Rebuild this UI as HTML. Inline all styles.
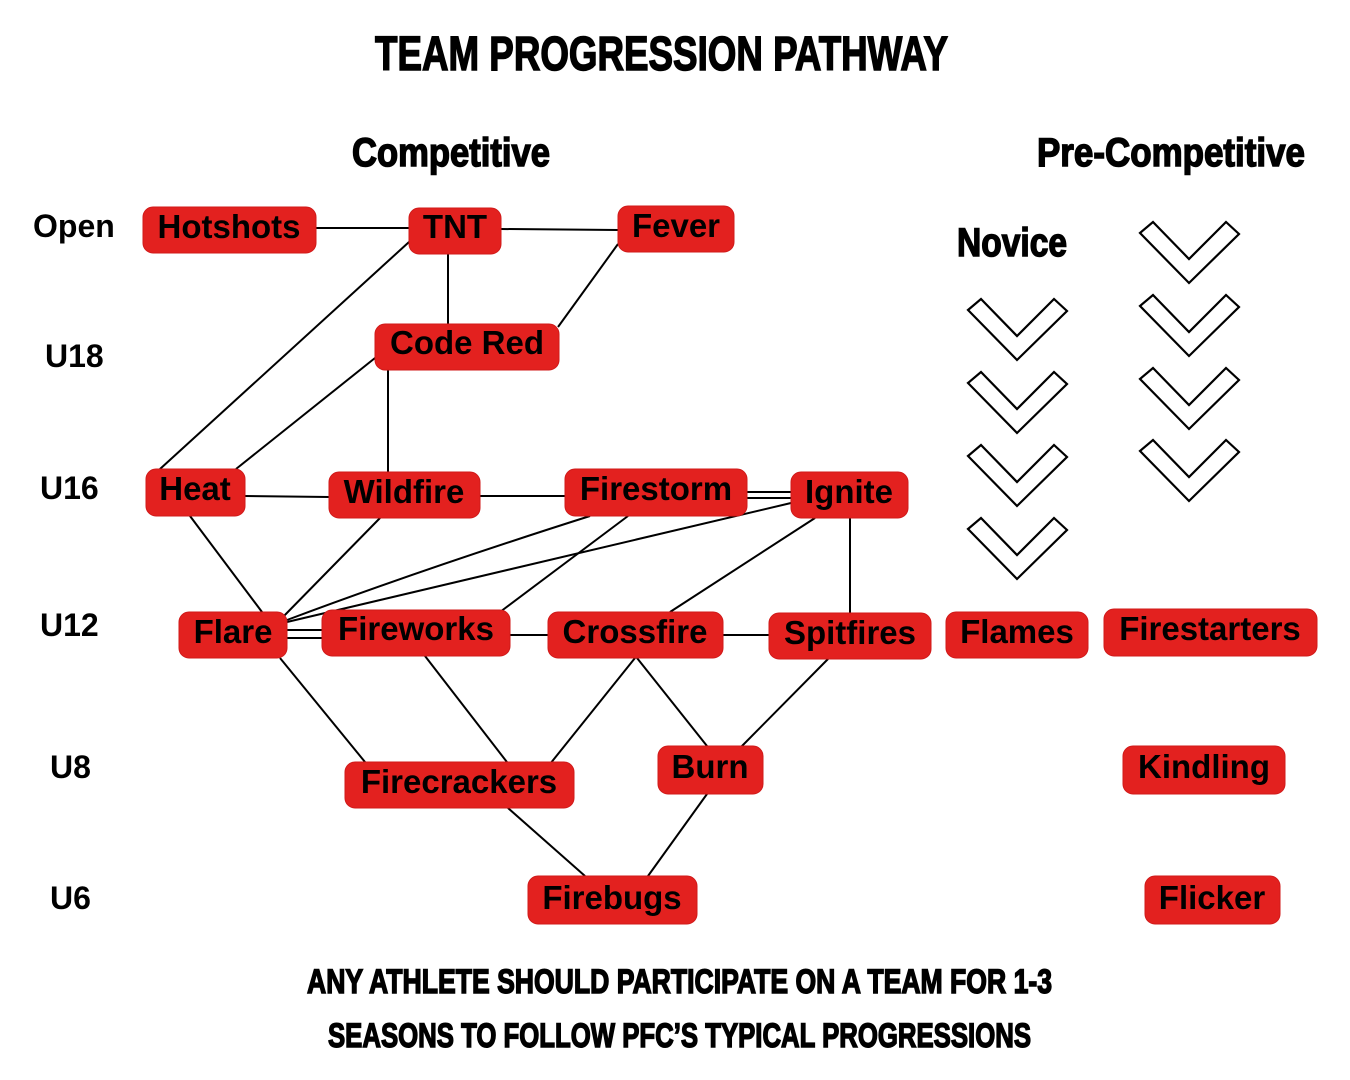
<!DOCTYPE html>
<html><head><meta charset="utf-8"><style>
html,body{margin:0;padding:0;background:#fff;}
svg{display:block;}
.n{fill:#e3211f;stroke:#d01a1a;stroke-width:1}
.t{font-family:"Liberation Sans",sans-serif;font-weight:bold;font-size:33px;fill:#000;text-anchor:middle}
.l{font-family:"Liberation Sans",sans-serif;font-weight:bold;font-size:32px;fill:#000}
.h{font-family:"Liberation Sans Narrow","Liberation Sans",sans-serif;font-weight:bold;fill:#000;stroke:#000;stroke-width:1.5}
line,path.c{stroke:#000;stroke-width:2;fill:none}
.ch{fill:#fff;stroke:#000;stroke-width:2.2;stroke-linejoin:miter}
</style></head><body>
<svg width="1350" height="1080" viewBox="0 0 1350 1080" xmlns="http://www.w3.org/2000/svg">
<text class="h" x="375" y="70" font-size="48" textLength="573" lengthAdjust="spacingAndGlyphs">TEAM PROGRESSION PATHWAY</text>
<text class="h" x="352" y="166" font-size="40" textLength="198" lengthAdjust="spacingAndGlyphs">Competitive</text>
<text class="h" x="1037" y="166" font-size="40" textLength="268" lengthAdjust="spacingAndGlyphs">Pre-Competitive</text>
<text class="h" x="957" y="256" font-size="40" textLength="110" lengthAdjust="spacingAndGlyphs">Novice</text>
<text class="h" x="307" y="993" font-size="34" textLength="745" lengthAdjust="spacingAndGlyphs">ANY ATHLETE SHOULD PARTICIPATE ON A TEAM FOR 1-3</text>
<text class="h" x="328" y="1047" font-size="34" textLength="703" lengthAdjust="spacingAndGlyphs">SEASONS TO FOLLOW PFC’S TYPICAL PROGRESSIONS</text>

<text class="l" x="33" y="237">Open</text>
<text class="l" x="45" y="367">U18</text>
<text class="l" x="40" y="499">U16</text>
<text class="l" x="40" y="636">U12</text>
<text class="l" x="50" y="778">U8</text>
<text class="l" x="50" y="909">U6</text>

<line x1="316" y1="228" x2="409" y2="228"/>
<line x1="501" y1="229" x2="618" y2="230"/>
<line x1="448" y1="254" x2="448" y2="324"/>
<line x1="409" y1="242" x2="160" y2="469"/>
<line x1="618" y1="244" x2="558" y2="327"/>
<line x1="375" y1="358" x2="236" y2="469"/>
<line x1="388" y1="370" x2="388" y2="472"/>
<line x1="245" y1="496" x2="329" y2="497"/>
<line x1="480" y1="496" x2="565" y2="496"/>
<line x1="747" y1="492" x2="791" y2="492"/>
<line x1="747" y1="498" x2="791" y2="498"/>
<line x1="190" y1="516" x2="262" y2="612"/>
<line x1="380" y1="518" x2="280" y2="620"/>
<path class="c" d="M590,516 Q420,570 287,620"/>
<line x1="791" y1="503" x2="287" y2="622"/>
<line x1="628" y1="516" x2="500" y2="612"/>
<line x1="815" y1="518" x2="670" y2="612"/>
<line x1="850" y1="518" x2="850" y2="613"/>
<line x1="287" y1="630" x2="322" y2="630"/>
<line x1="287" y1="638" x2="322" y2="638"/>
<line x1="510" y1="635" x2="548" y2="635"/>
<line x1="723" y1="635" x2="769" y2="635"/>
<line x1="280" y1="658" x2="365" y2="762"/>
<line x1="425" y1="656" x2="510" y2="766"/>
<line x1="635" y1="658" x2="550" y2="764"/>
<line x1="637" y1="658" x2="707" y2="746"/>
<line x1="828" y1="659" x2="740" y2="748"/>
<line x1="508" y1="808" x2="585" y2="876"/>
<line x1="707" y1="794" x2="648" y2="876"/>

<rect class="n" x="143" y="207" width="173" height="46" rx="10"/><text class="t" x="229" y="238">Hotshots</text>
<rect class="n" x="409" y="208" width="92" height="46" rx="10"/><text class="t" x="455" y="238">TNT</text>
<rect class="n" x="618" y="206" width="116" height="46" rx="10"/><text class="t" x="676" y="237">Fever</text>
<rect class="n" x="375" y="324" width="184" height="46" rx="10"/><text class="t" x="467" y="354">Code Red</text>
<rect class="n" x="146" y="469" width="99" height="47" rx="10"/><text class="t" x="195" y="500">Heat</text>
<rect class="n" x="329" y="472" width="151" height="46" rx="10"/><text class="t" x="404" y="503">Wildfire</text>
<rect class="n" x="565" y="469" width="182" height="47" rx="10"/><text class="t" x="656" y="500">Firestorm</text>
<rect class="n" x="791" y="472" width="117" height="46" rx="10"/><text class="t" x="849" y="503">Ignite</text>
<rect class="n" x="179" y="612" width="108" height="46" rx="10"/><text class="t" x="233" y="643">Flare</text>
<rect class="n" x="322" y="610" width="188" height="46" rx="10"/><text class="t" x="416" y="640">Fireworks</text>
<rect class="n" x="548" y="612" width="175" height="46" rx="10"/><text class="t" x="635" y="643">Crossfire</text>
<rect class="n" x="769" y="613" width="162" height="46" rx="10"/><text class="t" x="850" y="644">Spitfires</text>
<rect class="n" x="946" y="612" width="142" height="46" rx="10"/><text class="t" x="1017" y="643">Flames</text>
<rect class="n" x="1104" y="609" width="213" height="47" rx="10"/><text class="t" x="1210" y="640">Firestarters</text>
<rect class="n" x="345" y="762" width="229" height="46" rx="10"/><text class="t" x="459" y="793">Firecrackers</text>
<rect class="n" x="658" y="746" width="105" height="48" rx="10"/><text class="t" x="710" y="778">Burn</text>
<rect class="n" x="1123" y="746" width="162" height="48" rx="10"/><text class="t" x="1204" y="778">Kindling</text>
<rect class="n" x="528" y="876" width="169" height="48" rx="10"/><text class="t" x="612" y="909">Firebugs</text>
<rect class="n" x="1145" y="876" width="135" height="48" rx="10"/><text class="t" x="1212" y="909">Flicker</text>

<defs><polygon id="cv" class="ch" points="0,11 13,0 49,37 86,0 99,12 49,61"/></defs>
<use href="#cv" x="968" y="299"/>
<use href="#cv" x="968" y="372"/>
<use href="#cv" x="968" y="445"/>
<use href="#cv" x="968" y="518"/>
<use href="#cv" x="1140" y="222"/>
<use href="#cv" x="1140" y="295"/>
<use href="#cv" x="1140" y="368"/>
<use href="#cv" x="1140" y="440"/>
</svg>
</body></html>
